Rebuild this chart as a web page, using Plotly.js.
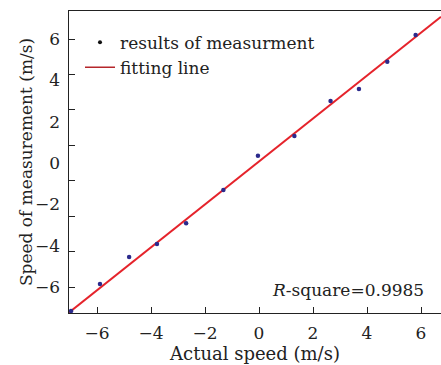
<!DOCTYPE html>
<html>
<head>
<meta charset="utf-8">
<script src="https://cdn.plot.ly/plotly-3.0.1.min.js"></script>
<style>html,body{margin:0;padding:0;background:#fff}#chart{width:441px;height:365px}</style>
</head>
<body>
<div id="chart"></div>
<script>
// Measured points (actual speed vs measured speed, m/s)
const actualSpeed = [-6.96, -5.89, -4.81, -3.78, -2.70, -1.32, -0.04, 1.31, 2.65, 3.70, 4.75, 5.80];
const measuredSpeed = [-7.16, -5.85, -4.55, -3.92, -2.92, -1.31, 0.35, 1.31, 3.00, 3.58, 4.90, 6.19];
// Fitting line end points
const fitX = [-7.04, 6.74];
const fitY = [-7.24, 7.08];
// Axis tick values and labels
const xTickVals = [-6, -4, -2, 0, 2, 4, 6];
const yLabelVals = [-6, -4, -2, 0, 2, 4, 6];
const yTickMarks = [6, 4.286, 2.571, 0.857, -0.857, -2.571, -4.286, -6];
const legendNames = ["results of measurment", "fitting line"];
const rSquareText = "<i>R</i>-square=0.9985";

const FONT = "DejaVu Serif, serif";
const traces = [
  {x: fitX, y: fitY, mode: "lines", line: {color: "#e5232b", width: 2}, showlegend: false, hoverinfo: "skip"},
  {x: actualSpeed, y: measuredSpeed, mode: "markers", marker: {color: "#2b2a8c", size: 4.5}, showlegend: false},
  {x: [null], y: [null], mode: "markers", marker: {color: "#111", size: 4}, name: legendNames[0]},
  {x: [null], y: [null], mode: "lines", line: {color: "#b5262b", width: 1.3}, name: legendNames[1]},
  {x: [null], y: [null], yaxis: "y2", mode: "markers", marker: {opacity: 0}, showlegend: false, hoverinfo: "skip"}
];
const yRange = [-7.258, 7.355];
const ML = 30, W = 441, PW = W - ML;
const layout = {
  width: W, height: 365,
  margin: {l: ML, r: 0, t: 11, b: 52},
  paper_bgcolor: "#fff", plot_bgcolor: "#fff",
  font: {family: FONT, color: "#222", size: 17},
  showlegend: true,
  legend: {x: (80 - ML) / PW, y: 0.955, xanchor: "left", yanchor: "top", bgcolor: "rgba(0,0,0,0)",
           font: {family: FONT, size: 17, color: "#222"}, tracegroupgap: 0, itemwidth: 30},
  xaxis: {
    domain: [(69 - ML) / PW, 1],
    range: [-7.037, 6.74], tickvals: xTickVals, ticks: "inside", ticklen: 6, tickwidth: 1, tickcolor: "#222",
    showline: true, linecolor: "#222", linewidth: 1.3, mirror: true, showgrid: false, zeroline: false,
    ticklabelstandoff: 4,
    tickfont: {family: FONT, size: 17, color: "#222"},
    title: {text: "Actual speed (m/s)", font: {family: FONT, size: 18, color: "#222"}, standoff: 2}
  },
  yaxis: {
    anchor: "free", position: (60 - ML) / PW,
    range: yRange, tickvals: yLabelVals, ticks: "", showline: false,
    showgrid: false, zeroline: false, tickfont: {family: FONT, size: 17, color: "#222"}
  },
  yaxis2: {
    overlaying: "y", side: "left", anchor: "x", range: yRange, tickvals: yTickMarks, ticks: "inside", ticklen: 6,
    tickcolor: "#222", showticklabels: false, showline: true, linecolor: "#222", linewidth: 1.3,
    showgrid: false, zeroline: false,
    title: {text: "Speed of measurement (m/s)", font: {family: FONT, size: 17, color: "#222"}, standoff: 30}
  },
  annotations: [{
    xref: "paper", yref: "paper", x: (426 - ML) / PW, y: 0.076, xanchor: "right", yanchor: "middle",
    text: rSquareText, showarrow: false, font: {family: FONT, size: 17, color: "#222"}
  }]
};
Plotly.newPlot("chart", traces, layout, {displayModeBar: false, staticPlot: true});
</script>
</body>
</html>
